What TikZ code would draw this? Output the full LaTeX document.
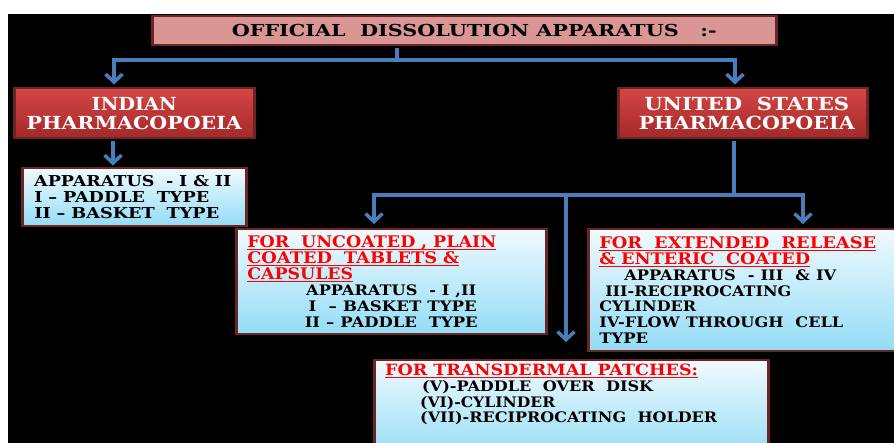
\documentclass[tikz,border=0pt]{standalone}
\usepackage{fontspec}
\setmainfont{DejaVu Serif}
\usepackage{graphicx}
\usetikzlibrary{arrows.meta}
\definecolor{brd}{HTML}{6B2525}
\definecolor{pinkf}{HTML}{D99694}
\definecolor{redtop}{HTML}{D44646}
\definecolor{redbot}{HTML}{A52828}
\definecolor{bluetop}{HTML}{F0FAFE}
\definecolor{bluebot}{HTML}{93DCF5}
\definecolor{arrc}{HTML}{4A7EBB}
\definecolor{redtxt}{HTML}{FF0000}
\newsavebox\ulsb
\newcommand\myul[1]{\sbox\ulsb{#1}\rlap{\rule[-2.4pt]{\wd\ulsb}{1.2pt}}\usebox\ulsb}
\newcommand\fw[2]{\resizebox{#1pt}{\height}{#2}}
\newcommand\rl[2]{\textcolor{redtxt}{\fw{#1}{\myul{#2}}}}
\tikzset{
  boxbase/.style={draw=brd, line width=2.5pt, inner xsep=11pt, inner ysep=2pt, anchor=north west},
  titlebox/.style={boxbase, fill=pinkf, align=center, font=\bfseries\fontsize{16.5}{18}\selectfont},
  redbox/.style={boxbase, top color=redtop, bottom color=redbot, text=white, align=center,
    font=\bfseries\fontsize{18}{19}\selectfont},
  bluebox/.style={boxbase, top color=bluetop, bottom color=bluebot, align=left},
  conn/.style={draw=arrc, line width=3.5pt},
  arrowc/.style={conn, -{Straight Barb[length=8pt,width=17pt]}},
}
\begin{document}
\begin{tikzpicture}[x=1pt,y=-1pt]
\clip (0,0) rectangle (894,443);
\fill[white] (0,0) rectangle (894,443);
\fill[black] (8,14) rectangle (894,443);

% boxes
\node[titlebox, minimum width=624pt, minimum height=29pt] (title) at (151,15)
  {\hspace*{20pt}\fw{485}{OFFICIAL\ \ DISSOLUTION APPARATUS\ \ \ :-}};
\node[redbox, minimum width=240pt, minimum height=50pt] (ip) at (13,87)
  {\fw{85}{INDIAN}\\\fw{215}{PHARMACOPOEIA}};
\node[redbox, minimum width=249pt, minimum height=50pt] (us) at (617,87)
  {\hspace*{8pt}\fw{205}{UNITED\ \ STATES}\\\hspace*{8pt}\fw{216}{PHARMACOPOEIA}};
\node[bluebox, text width=200pt, minimum width=224pt, minimum height=58pt, inner xsep=12pt,
  font=\bfseries\fontsize{15}{16}\selectfont] (ipapp) at (21,167)
  {\fw{197}{APPARATUS\ \ - I \& II}\\
   \fw{175}{I – PADDLE\ \ TYPE}\\
   \fw{185}{II – BASKET\ \ TYPE}};
\node[bluebox, text width=288pt, minimum width=310pt, minimum height=105pt,
  font=\bfseries\fontsize{16}{16}\selectfont] (unc) at (235,228)
  {\rl{249}{FOR\ \ UNCOATED , PLAIN}\\
   \rl{212}{COATED\ \ TABLETS \&}\\
   \rl{106}{CAPSULES}\\
   {\fontsize{14.5}{16}\selectfont
   \makebox[288pt][c]{\fw{170}{APPARATUS\ \ - I ,II}}\\
   \makebox[288pt][c]{\hspace*{3pt}\fw{168}{I\ \ – BASKET TYPE}}\\
   \makebox[288pt][c]{\fw{173}{II – PADDLE\ \ TYPE}}}};
\node[bluebox, text width=298pt, minimum width=320pt, minimum height=122pt,
  font=\bfseries\fontsize{16}{15.8}\selectfont] (ext) at (587,228)
  {\rl{277}{FOR\ \ EXTENDED\ \ RELEASE}\\
   \rl{211}{\& ENTERIC\ \ COATED}\\
   {\fontsize{14.5}{15.8}\selectfont
   \hspace*{25pt}\fw{212}{APPARATUS\ \ - III\ \ \& IV}\\
   \hspace*{6pt}\fw{186}{III-RECIPROCATING}\\
   \fw{97}{CYLINDER}\\
   \fw{244}{IV-FLOW THROUGH\ \ CELL}\\
   \fw{49}{TYPE}}};
\node[bluebox, minimum width=394pt, minimum height=100pt] (td) at (373,359) {};
\node[anchor=north west, inner sep=0pt, align=left, text width=370pt,
  font=\bfseries\fontsize{15.5}{15.7}\selectfont] (tdtext) at (385,364)
  {\rl{313}{FOR TRANSDERMAL PATCHES:}\\
   {\fontsize{14.5}{15.7}\selectfont
   \hspace*{37pt}\fw{231}{(V)-PADDLE\ \ OVER\ \ DISK}\\
   \hspace*{35pt}\fw{135}{(VI)-CYLINDER}\\
   \hspace*{35pt}\fw{297}{(VII)-RECIPROCATING\ \ HOLDER}}};

% connectors
\coordinate (j1) at (397,60);
\coordinate (jL) at (114,60);
\coordinate (jR) at (735,60);
\draw[conn, shorten <=1.3pt] (title.south -| j1) -- (j1);
\draw[arrowc, shorten >=2.5pt] (j1) -- (jL) -- (jL |- ip.north);
\draw[arrowc, shorten >=2.5pt] (j1) -- (jR) -- (jR |- us.north);
\coordinate (xi) at (113,0);
\draw[arrowc, shorten <=1.3pt, shorten >=1.5pt] (ip.south -| xi) -- (ipapp.north -| xi);
\coordinate (j2) at (734,195);
\coordinate (jA) at (374,195);
\coordinate (jB) at (803,195);
\coordinate (jC) at (566,195);
\draw[conn, shorten <=1.3pt] (us.south -| j2) -- (j2);
\draw[arrowc, shorten >=4pt] (j2) -- (jA) -- (jA |- unc.north);
\draw[arrowc, shorten >=4pt] (j2) -- (jB) -- (jB |- ext.north);
\draw[arrowc, shorten >=17pt] (jC) -- (jC |- td.north);
\end{tikzpicture}
\end{document}
